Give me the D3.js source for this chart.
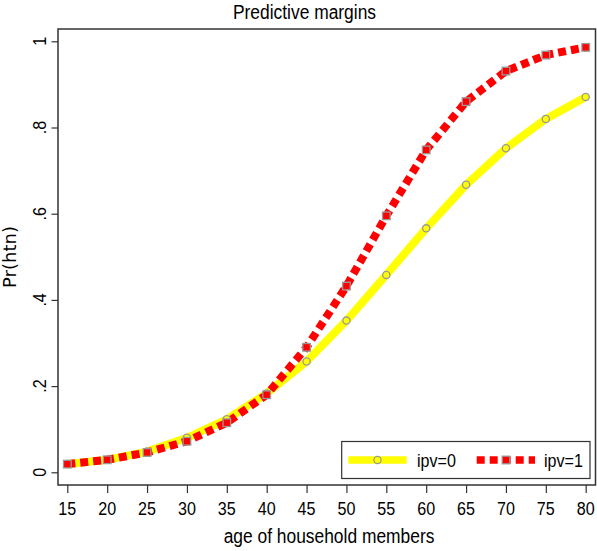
<!DOCTYPE html>
<html><head><meta charset="utf-8">
<script src="https://cdn.jsdelivr.net/npm/d3@7"></script>
<style>html,body{margin:0;padding:0;background:#fff;}svg{display:block;}</style>
</head><body>
<script>
const ages = [15,20,25,30,35,40,45,50,55,60,65,70,75,80];
const ipv0 = [0.019,0.029,0.048,0.080,0.123,0.183,0.257,0.352,0.458,0.566,0.667,0.752,0.820,0.871];
const ipv1 = [0.019,0.029,0.046,0.072,0.115,0.180,0.290,0.432,0.595,0.748,0.860,0.931,0.968,0.986];
const yTicks = [0,0.2,0.4,0.6,0.8,1];
const yTickLabels = ["0",".2",".4",".6",".8","1"];
const seriesNames = ["ipv=0","ipv=1"];
const titleText = "Predictive margins";
const xTitle = "age of household members";
const yTitle = "Pr(htn)";

const W = 597, H = 551;
const frame = {left:58, top:29, right:595.5, bottom:485};
const SX = 0.87;
const FONT = "'Liberation Sans', Arial, Helvetica, sans-serif";

const svg = d3.select("body").append("svg").attr("width",W).attr("height",H);
const x = d3.scaleLinear().domain([15,80]).range([67.3,585.7]);
const y = d3.scaleLinear().domain([0,1]).range([472.3,41.3]);

function ctext(px, py, str, size, rot, anchor, family) {
  const g = svg.append("g").attr("transform", `translate(${px},${py}) rotate(${rot||0}) scale(${SX},1)`);
  g.append("text").attr("x",0).attr("y",0).attr("text-anchor",anchor||"middle")
    .attr("font-family", family||FONT).attr("font-size",size).attr("fill","#000").text(str);
  return g;
}

// frame
svg.append("rect").attr("x",frame.left).attr("y",frame.top)
  .attr("width",frame.right-frame.left).attr("height",frame.bottom-frame.top)
  .attr("fill","none").attr("stroke","#333").attr("stroke-width",1.5);

// x axis
const xAxis = d3.axisBottom(x).tickValues(ages).tickSize(8).tickFormat("");
const gx = svg.append("g").attr("transform",`translate(0,${frame.bottom})`).call(xAxis);
gx.select(".domain").remove();
gx.selectAll(".tick line").attr("stroke","#333").attr("stroke-width",1.2);
ages.forEach(a => ctext(x(a), 515, String(a), 18.5));

// y axis
const yAxis = d3.axisLeft(y).tickValues(yTicks).tickSize(6.5).tickFormat("");
const gy = svg.append("g").attr("transform",`translate(${frame.left},0)`).call(yAxis);
gy.select(".domain").remove();
gy.selectAll(".tick line").attr("stroke","#333").attr("stroke-width",1.2);
yTicks.forEach((v,i) => ctext(46, y(v), yTickLabels[i], 18.5, -90));

// titles
ctext(304.5, 18.5, titleText, 20);
ctext(329, 543, xTitle, 20);
const gyt = svg.append("g").attr("transform",`translate(16,257) rotate(-90)`);
gyt.append("text").attr("text-anchor","middle").attr("font-family","'DejaVu Sans', Verdana, sans-serif")
  .attr("font-size",18).attr("fill","#000").text(yTitle);

// lines
const line = d3.line().x((d,i)=>x(ages[i])).y(d=>y(d));
svg.append("path").datum(ipv0).attr("d",line).attr("fill","none")
  .attr("stroke","#ffff00").attr("stroke-width",8).attr("stroke-linejoin","round");
svg.append("path").datum(ipv1).attr("d",line).attr("fill","none")
  .attr("stroke","#ff0000").attr("stroke-width",8).attr("stroke-dasharray","8,5");

// markers
svg.append("g").selectAll("circle").data(ipv0).join("circle")
  .attr("cx",(d,i)=>x(ages[i])).attr("cy",d=>y(d)).attr("r",3.6)
  .attr("fill","#ffff00").attr("stroke","#999").attr("stroke-width",1.3);
svg.append("g").selectAll("rect").data(ipv1).join("rect")
  .attr("x",(d,i)=>x(ages[i])-3.8).attr("y",d=>y(d)-3.8).attr("width",7.6).attr("height",7.6)
  .attr("fill","#ff0000").attr("stroke","#999").attr("stroke-width",1.3);

// legend
const lg = svg.append("g");
lg.append("rect").attr("x",341.7).attr("y",441.5).attr("width",248.3).attr("height",37)
  .attr("fill","#fff").attr("stroke","#333").attr("stroke-width",1.2);
lg.append("line").attr("x1",348.3).attr("x2",406.7).attr("y1",460).attr("y2",460)
  .attr("stroke","#ffff00").attr("stroke-width",7.5);
lg.append("circle").attr("cx",377.5).attr("cy",460).attr("r",3.6)
  .attr("fill","#ffff00").attr("stroke","#999").attr("stroke-width",1.3);
lg.append("line").attr("x1",476.7).attr("x2",535).attr("y1",460).attr("y2",460)
  .attr("stroke","#ff0000").attr("stroke-width",7.5).attr("stroke-dasharray","8,5");
lg.append("rect").attr("x",506-3.8).attr("y",460-3.8).attr("width",7.6).attr("height",7.6)
  .attr("fill","#ff0000").attr("stroke","#999").attr("stroke-width",1.3);
ctext(417, 467, seriesNames[0], 18.5, 0, "start");
ctext(544, 467, seriesNames[1], 18.5, 0, "start");
</script>
</body></html>
